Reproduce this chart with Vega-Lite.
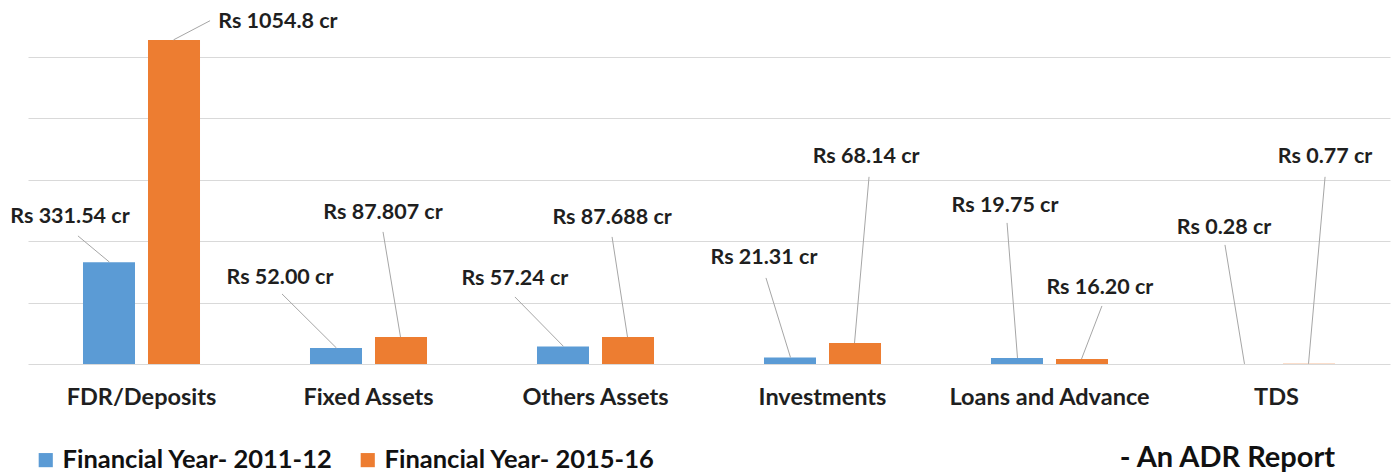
{
  "$schema": "https://vega.github.io/schema/vega-lite/v6.json",
  "autosize": {"type": "none"},
  "padding": {"left": 28, "top": 26, "right": 4, "bottom": 109},
  "width": 1362,
  "height": 338,
  "background": "white",
  "config": {"view": {"stroke": null}, "font": "Lato"},
  "data": {"values": [
    {"category": "FDR/Deposits", "series": "Financial Year- 2011-12", "value": 331.54, "label": "Rs 331.54 cr", "textX": 0.185, "textY": 478.8, "lineX": 0.22, "lineY": 416.9},
    {"category": "FDR/Deposits", "series": "Financial Year- 2015-16", "value": 1054.8, "label": "Rs 1054.8 cr", "textX": 1.101, "textY": 1113.9, "lineX": 0.802, "lineY": 1117.2},
    {"category": "Fixed Assets", "series": "Financial Year- 2011-12", "value": 52.0, "label": "Rs 52.00 cr", "textX": 1.11, "textY": 280.1, "lineX": 1.119, "lineY": 228.0},
    {"category": "Fixed Assets", "series": "Financial Year- 2015-16", "value": 87.807, "label": "Rs 87.807 cr", "textX": 1.564, "textY": 491.8, "lineX": 1.564, "lineY": 429.9},
    {"category": "Others Assets", "series": "Financial Year- 2011-12", "value": 57.24, "label": "Rs 57.24 cr", "textX": 2.145, "textY": 276.8, "lineX": 2.145, "lineY": 218.2},
    {"category": "Others Assets", "series": "Financial Year- 2015-16", "value": 87.688, "label": "Rs 87.688 cr", "textX": 2.573, "textY": 475.5, "lineX": 2.573, "lineY": 413.6},
    {"category": "Investments", "series": "Financial Year- 2011-12", "value": 21.31, "label": "Rs 21.31 cr", "textX": 3.242, "textY": 345.2, "lineX": 3.251, "lineY": 280.1},
    {"category": "Investments", "series": "Financial Year- 2015-16", "value": 68.14, "label": "Rs 68.14 cr", "textX": 3.692, "textY": 674.2, "lineX": 3.705, "lineY": 609.1},
    {"category": "Loans and Advance", "series": "Financial Year- 2011-12", "value": 19.75, "label": "Rs 19.75 cr", "textX": 4.304, "textY": 514.6, "lineX": 4.313, "lineY": 459.2},
    {"category": "Loans and Advance", "series": "Financial Year- 2015-16", "value": 16.2, "label": "Rs 16.20 cr", "textX": 4.722, "textY": 247.5, "lineX": 4.731, "lineY": 188.9},
    {"category": "TDS", "series": "Financial Year- 2011-12", "value": 0.28, "label": "Rs 0.28 cr", "textX": 5.269, "textY": 443.0, "lineX": 5.273, "lineY": 387.6},
    {"category": "TDS", "series": "Financial Year- 2015-16", "value": 0.77, "label": "Rs 0.77 cr", "textX": 5.714, "textY": 674.2, "lineX": 5.714, "lineY": 609.1}
  ]},
  "layer": [
    {
      "mark": {"type": "bar"},
      "encoding": {
        "x": {"field": "category", "type": "nominal", "sort": null,
              "scale": {"paddingInner": 0, "paddingOuter": 0},
              "axis": {"title": null, "labelAngle": 0, "ticks": false, "domain": false, "labelPadding": 21, "labelFontSize": 23.5, "labelFont": "Lato", "labelFontWeight": "bold", "labelColor": "#1f1f1f", "labelLimit": 400}},
        "xOffset": {"field": "series", "type": "nominal", "scale": {"paddingInner": 0.2, "paddingOuter": 0.846}},
        "y": {"field": "value", "type": "quantitative",
              "scale": {"domain": [0, 1100], "nice": false},
              "axis": {"title": null, "values": [0, 200, 400, 600, 800, 1000], "labels": false, "ticks": false, "domain": false, "grid": true, "gridColor": "#d9d9d9", "gridWidth": 1}},
        "color": {"field": "series", "type": "nominal",
                  "scale": {"range": ["#5B9BD5", "#ED7D31"]},
                  "legend": {"title": null, "orient": "none", "direction": "horizontal", "legendX": 5, "legendY": 421, "symbolType": "square", "symbolSize": 200, "symbolStrokeWidth": 0, "labelFontSize": 25.5, "labelFont": "Lato", "labelFontWeight": "bold", "labelColor": "#111111", "columnPadding": 22, "labelLimit": 400}}
      }
    },
    {
      "transform": [
        {"calculate": "indexof(['FDR/Deposits','Fixed Assets','Others Assets','Investments','Loans and Advance','TDS'], datum.category) + 0.5 + (datum.series == 'Financial Year- 2011-12' ? -0.141 : 0.141)", "as": "barX"}
      ],
      "mark": {"type": "rule", "color": "#a6a6a6", "strokeWidth": 1},
      "encoding": {
        "x": {"field": "barX", "type": "quantitative", "scale": {"domain": [0, 6], "nice": false, "zero": false}, "axis": null},
        "x2": {"field": "lineX"},
        "y": {"field": "value", "type": "quantitative"},
        "y2": {"field": "lineY"}
      }
    },
    {
      "mark": {"type": "text", "fontSize": 21.5, "font": "Lato", "fontWeight": "bold", "color": "#1f1f1f", "align": "center", "baseline": "middle"},
      "encoding": {
        "x": {"field": "textX", "type": "quantitative", "scale": {"domain": [0, 6], "nice": false, "zero": false}, "axis": null},
        "y": {"field": "textY", "type": "quantitative"},
        "text": {"field": "label"}
      }
    },
    {
      "data": {"values": [{"note": "- An ADR Report", "noteX": 5.758, "noteY": -306}]},
      "mark": {"type": "text", "fontSize": 29, "font": "Lato", "fontWeight": "bold", "color": "#111111", "align": "right", "baseline": "middle"},
      "encoding": {
        "x": {"field": "noteX", "type": "quantitative", "scale": {"domain": [0, 6], "nice": false, "zero": false}, "axis": null},
        "y": {"field": "noteY", "type": "quantitative"},
        "text": {"field": "note"}
      }
    }
  ],
  "resolve": {"scale": {"x": "independent"}, "axis": {"x": "independent"}}
}
